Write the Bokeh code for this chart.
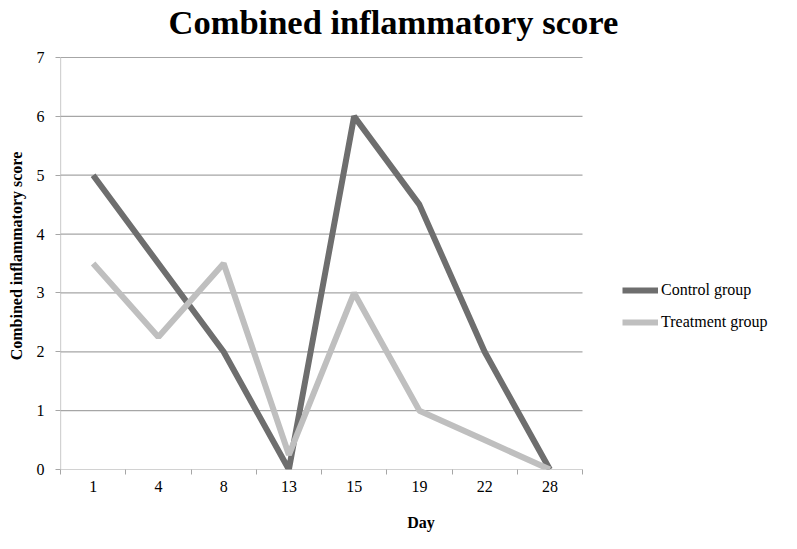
from bokeh.plotting import figure
from bokeh.models import FixedTicker, Legend, LegendItem, Range1d
from bokeh.embed import file_html
from bokeh.resources import INLINE

days = ["1", "4", "8", "13", "15", "19", "22", "28"]
control = [5, 3.5, 2, 0, 6, 4.5, 2, 0]
treatment = [3.5, 2.25, 3.5, 0.25, 3, 1, 0.5, 0]
y_ticks = [0, 1, 2, 3, 4, 5, 6, 7]

n = len(days)
xs = [i + 0.5 for i in range(n)]
y_top = y_ticks[-1]

W, H = 781, 533
LEFT, TOP, BOTTOM = 60, 42, 64
PLOT_W = 522  # width of the drawn plot area in px
PLOT_H = 412  # height of the drawn plot area in px
frame_w = W - LEFT
frame_h = H - TOP - BOTTOM
x_max = n * frame_w / PLOT_W
y_max = y_top * frame_h / PLOT_H

p = figure(width=W, height=H, output_backend="svg", toolbar_location=None,
           x_range=Range1d(0, x_max), y_range=Range1d(0, y_max),
           min_border_left=LEFT, min_border_top=TOP, min_border_bottom=BOTTOM,
           min_border_right=0)
p.outline_line_color = None
p.background_fill_color = "white"
p.border_fill_color = "white"

FONT = "Liberation Serif"
GRID = "#a6a6a6"

p.title.text = "Combined inflammatory score"
p.title.align = "left"
p.title.offset = 108
p.title.vertical_align = "top"
p.title.standoff = 0
p.title.text_font = FONT
p.title.text_font_size = "34.5px"
p.title.text_font_style = "bold"
p.title.text_color = "black"

# x axis
p.xaxis.ticker = FixedTicker(ticks=xs, minor_ticks=list(range(n + 1)))
p.xaxis.major_label_overrides = {x: d for x, d in zip(xs, days)}
p.xaxis.major_tick_in = 0
p.xaxis.major_tick_out = 0
p.xaxis.minor_tick_in = 0
p.xaxis.minor_tick_out = 5
p.xaxis.minor_tick_line_color = GRID
p.xaxis.axis_line_color = None
p.xaxis.major_label_standoff = 6
p.xaxis.axis_label = "Day"
p.xaxis.axis_label_standoff = 19
p.xgrid.grid_line_color = None

# y axis
p.yaxis.ticker = FixedTicker(ticks=y_ticks)
p.yaxis.major_tick_in = 0
p.yaxis.major_tick_out = 5
p.yaxis.major_tick_line_color = GRID
p.yaxis.minor_tick_line_color = None
p.yaxis.axis_line_color = None
p.yaxis.major_label_standoff = 11
p.yaxis.axis_label = "Combined inflammatory score"
p.yaxis.axis_label_standoff = 9
p.ygrid.grid_line_color = None

for ax in (p.xaxis, p.yaxis):
    ax.major_label_text_font = FONT
    ax.major_label_text_font_size = "16px"
    ax.major_label_text_color = "black"
    ax.axis_label_text_font = FONT
    ax.axis_label_text_font_size = "16px"
    ax.axis_label_text_font_style = "bold"
    ax.axis_label_text_color = "black"

# horizontal grid lines (and x axis line at 0) over the plot area only
p.segment(x0=[0] * len(y_ticks), x1=[n] * len(y_ticks), y0=y_ticks, y1=y_ticks,
          line_color=GRID, line_width=1.2)
# y axis line over the plot area only
p.segment(x0=[0], x1=[0], y0=[0], y1=[y_top], line_color=GRID, line_width=1.2)

r1 = p.line(xs, control, line_color="#6e6e6e", line_width=6)
r2 = p.line(xs, treatment, line_color="#bfbfbf", line_width=6)

legend = Legend(items=[LegendItem(label="Control group", renderers=[r1]),
                       LegendItem(label="Treatment group", renderers=[r2])],
                location=(PLOT_W + 40, 137), orientation="vertical")
legend.border_line_color = None
legend.background_fill_alpha = 0
legend.label_text_font = FONT
legend.label_text_font_size = "16px"
legend.label_text_color = "black"
legend.glyph_width = 36
legend.glyph_height = 20
legend.label_standoff = 3
legend.spacing = 12
legend.padding = 0
legend.margin = 0
p.add_layout(legend, "center")

open("out.html", "w").write(file_html(p, INLINE))
